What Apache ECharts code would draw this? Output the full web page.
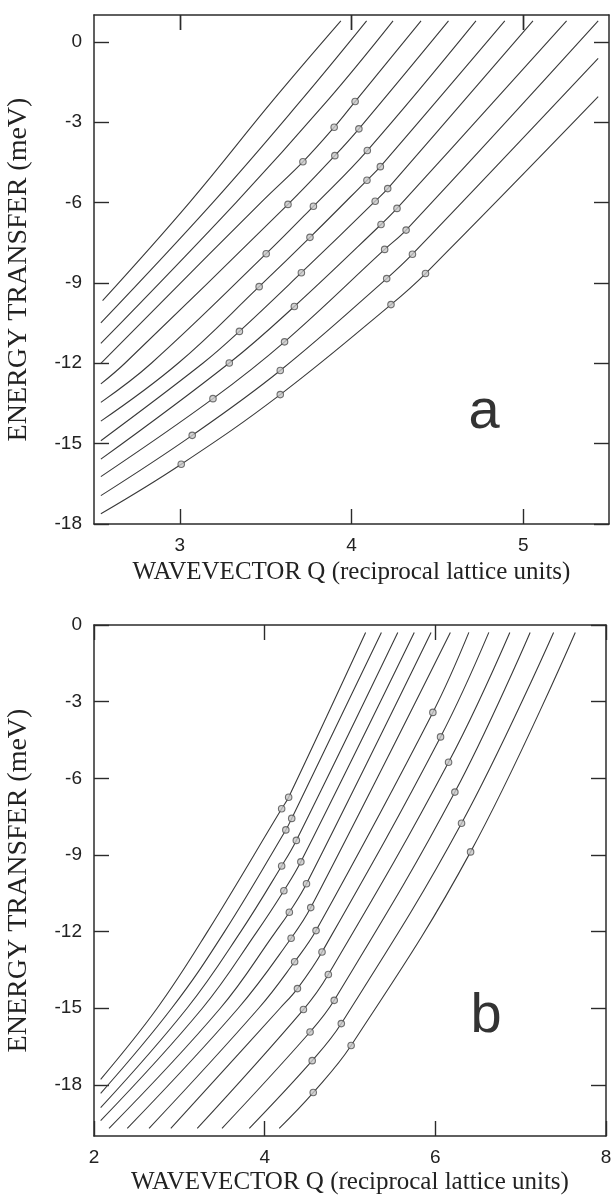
<!DOCTYPE html>
<html><head><meta charset="utf-8">
<script src="https://cdn.jsdelivr.net/npm/echarts@6/dist/echarts.min.js"></script>
<style>html,body{margin:0;padding:0;background:#fff}#c{width:611px;height:1197px}</style>
</head><body><div id="c"></div>
<script>
// ---------- tick labels ----------
const xTicksA = [3, 4, 5];
const yTicksA = [-18, -15, -12, -9, -6, -3, 0];
const xTicksB = [2, 4, 6, 8];
const yTicksB = [-18, -15, -12, -9, -6, -3, 0];
const xTitle = 'WAVEVECTOR Q (reciprocal lattice units)';
const yTitle = 'ENERGY TRANSFER (meV)';

// ---------- panel a : curves (Q, E) ----------
const curveA1 = [[2.55,-9.66],[3.056,-6.0],[3.546,-2.16],[3.938,0.78]];
const curveA2 = [[2.54,-10.49],[3.192,-6.0],[3.71,-2.16],[4.088,0.78]];
const curveA3 = [[2.54,-11.26],[3.327,-6.0],[3.865,-2.16],[4.242,0.78]];
const curveA4 = [[2.54,-12.0],[3.472,-6.0],[3.717,-4.48],[3.899,-3.19],[4.021,-2.23],[4.405,0.78]];
const curveA5 = [[2.54,-12.77],[2.68,-12.0],[3.630,-6.07],[3.903,-4.25],[4.043,-3.25],[4.565,0.78]];
const curveA6 = [[2.54,-13.46],[2.834,-12.0],[3.503,-7.91],[3.778,-6.14],[4.092,-4.06],[4.725,0.78]];
const curveA7 = [[2.54,-14.16],[2.99,-12.0],[3.462,-9.14],[3.758,-7.30],[4.090,-5.17],[4.168,-4.66],[4.893,0.78]];
const curveA8 = [[2.54,-14.89],[3.134,-12.0],[3.347,-10.81],[3.708,-8.62],[4.138,-5.95],[4.211,-5.48],[5.057,0.78]];
const curveA9 = [[2.54,-15.58],[3.288,-11.99],[3.667,-9.88],[4.172,-6.82],[4.265,-6.22],[5.253,0.78]];
const curveA10 = [[2.54,-16.23],[3.193,-13.32],[3.610,-11.20],[4.193,-7.75],[4.318,-7.03],[5.437,0.78]];
const curveA11 = [[2.54,-16.94],[3.072,-14.69],[3.585,-12.27],[4.205,-8.84],[4.355,-7.93],[5.437,-0.62]];
const curveA12 = [[2.54,-17.62],[3.008,-15.77],[3.585,-13.17],[4.23,-9.81],[4.431,-8.65],[5.437,-2.05]];

// ---------- panel a : measured points ----------
const pointsA = [
  [4.021,-2.23],[3.899,-3.19],[4.043,-3.25],[3.717,-4.48],[3.903,-4.25],[4.092,-4.06],
  [4.168,-4.66],[4.090,-5.17],[4.211,-5.48],[3.630,-6.07],[3.778,-6.14],[4.138,-5.95],
  [4.265,-6.22],[4.172,-6.82],[4.318,-7.03],[3.758,-7.30],[3.503,-7.91],[4.193,-7.75],
  [4.355,-7.93],[3.708,-8.62],[4.431,-8.65],[3.462,-9.14],[4.205,-8.84],[3.667,-9.88],
  [4.230,-9.81],[3.347,-10.81],[3.610,-11.20],[3.288,-11.99],[3.585,-12.27],[3.193,-13.32],
  [3.585,-13.17],[3.072,-14.69],[3.008,-15.77]
];

// ---------- panel b : curves (Q, E) ----------
const curveB1 = [[2.078,-17.78],[2.74,-15.0],[3.33,-12.0],[4.199,-7.19],[4.281,-6.74],[5.183,-0.29]];
const curveB2 = [[2.078,-18.33],[2.91,-15.0],[3.53,-12.0],[4.248,-8.02],[4.317,-7.57],[5.368,-0.29]];
const curveB3 = [[2.078,-18.89],[3.09,-15.0],[3.72,-12.0],[4.199,-9.43],[4.371,-8.43],[5.560,-0.29]];
const curveB4 = [[2.078,-19.40],[3.27,-15.0],[3.91,-12.0],[4.225,-10.40],[4.424,-9.27],[5.753,-0.29]];
const curveB5 = [[2.176,-19.70],[3.48,-15.0],[4.13,-12.0],[4.289,-11.24],[4.49,-10.13],[5.950,-0.29]];
const curveB6 = [[2.39,-19.70],[3.69,-15.0],[4.310,-12.26],[4.540,-11.06],[6.176,-0.29]];
const curveB7 = [[2.645,-19.70],[3.93,-15.0],[4.351,-13.18],[4.602,-11.96],[5.971,-3.42],[6.393,-0.29]];
const curveB8 = [[2.90,-19.70],[4.18,-15.0],[4.384,-14.23],[4.672,-12.80],[6.061,-4.38],[6.627,-0.29]];
const curveB9 = [[3.21,-19.70],[4.454,-15.05],[4.746,-13.68],[6.155,-5.37],[6.873,-0.29]];
const curveB10 = [[3.50,-19.70],[4.532,-15.93],[4.815,-14.69],[6.229,-6.54],[7.111,-0.29]];
const curveB11 = [[3.82,-19.70],[4.557,-17.05],[4.898,-15.60],[6.307,-7.76],[7.386,-0.29]];
const curveB12 = [[4.17,-19.70],[4.569,-18.30],[5.013,-16.46],[6.413,-8.88],[7.640,-0.29]];

// ---------- panel b : measured points ----------
const pointsB = [
  [4.281,-6.74],[4.199,-7.19],[4.317,-7.57],[4.248,-8.02],[4.371,-8.43],[4.199,-9.43],
  [4.424,-9.27],[4.490,-10.13],[4.225,-10.40],[4.540,-11.06],[4.289,-11.24],[4.602,-11.96],
  [4.310,-12.26],[4.672,-12.80],[4.351,-13.18],[4.746,-13.68],[4.384,-14.23],[4.815,-14.69],
  [4.454,-15.05],[4.898,-15.60],[4.532,-15.93],[5.013,-16.46],[4.557,-17.05],[4.569,-18.30],
  [5.971,-3.42],[6.061,-4.38],[6.155,-5.37],[6.229,-6.54],[6.307,-7.76],[6.413,-8.88]
];

const curvesA = [curveA1,curveA2,curveA3,curveA4,curveA5,curveA6,curveA7,curveA8,curveA9,curveA10,curveA11,curveA12];
const curvesB = [curveB1,curveB2,curveB3,curveB4,curveB5,curveB6,curveB7,curveB8,curveB9,curveB10,curveB11,curveB12];

const INK = '#2b2b2b';
const LABEL_FONT = '"Liberation Sans", Arial, sans-serif';
const SERIF = '"Liberation Serif", "Times New Roman", serif';

function tickStyle(ticks) {
  return { show: true, inside: true, length: 15, customValues: ticks, lineStyle: { color: INK, width: 1.4 } };
}
function lineStyleAx() {
  return { show: true, onZero: false, lineStyle: { color: INK, width: 1.5 } };
}
function ghostLabels(ticks) {
  return { show: true, customValues: ticks, color: 'rgba(0,0,0,0)', fontSize: 10 };
}
function mainX(grid, min, max, ticks, gap) {
  return {
    type: 'value', gridIndex: grid, min: min, max: max, position: 'bottom',
    axisLine: lineStyleAx(), splitLine: { show: false },
    axisTick: tickStyle(ticks),
    axisLabel: { customValues: ticks, margin: 12, fontFamily: LABEL_FONT, fontSize: 19, color: '#222' },
    name: xTitle, nameLocation: 'middle', nameGap: gap,
    nameTextStyle: { fontFamily: SERIF, fontSize: 25, color: '#222' }
  };
}
function topX(grid, min, max, ticks) {
  return {
    type: 'value', gridIndex: grid, min: min, max: max, position: 'top',
    axisLine: lineStyleAx(), splitLine: { show: false },
    axisTick: tickStyle(ticks),
    axisLabel: ghostLabels(ticks)
  };
}
// strip along the top edge of panel a: its bottom-axis ticks point up into the top frame
function stripX(grid, min, max, ticks) {
  return {
    type: 'value', gridIndex: grid, min: min, max: max, position: 'bottom',
    axisLine: { show: false, onZero: false }, splitLine: { show: false },
    axisTick: tickStyle(ticks),
    axisLabel: { show: false, customValues: ticks }
  };
}
function mainY(grid, min, max, ticks) {
  return {
    type: 'value', gridIndex: grid, min: min, max: max, position: 'left',
    axisLine: lineStyleAx(), splitLine: { show: false },
    axisTick: tickStyle(ticks),
    axisLabel: { customValues: ticks, margin: 12, fontFamily: LABEL_FONT, fontSize: 19, color: '#222' },
    name: yTitle, nameLocation: 'middle', nameGap: 61, nameRotate: 90,
    nameTextStyle: { fontFamily: SERIF, fontSize: 28, color: '#222' }
  };
}
function rightY(grid, min, max, ticks) {
  return {
    type: 'value', gridIndex: grid, min: min, max: max, position: 'right',
    axisLine: lineStyleAx(), splitLine: { show: false },
    axisTick: tickStyle(ticks),
    axisLabel: ghostLabels(ticks)
  };
}
function hiddenY(grid) {
  return { type: 'value', gridIndex: grid, min: 0, max: 1, show: false, axisLine: { onZero: false } };
}

const series = [];
function addCurves(list, xi, yi) {
  list.forEach(function (c) {
    series.push({
      type: 'line', xAxisIndex: xi, yAxisIndex: yi, data: c, smooth: 0.4,
      showSymbol: false, silent: true, animation: false,
      lineStyle: { color: '#3a3a3a', width: 1.1 }
    });
  });
}
function addPoints(pts, xi, yi) {
  series.push({
    type: 'scatter', xAxisIndex: xi, yAxisIndex: yi, data: pts, symbol: 'circle', symbolSize: 6.5,
    silent: true, animation: false, z: 5,
    itemStyle: { color: '#c8c8c8', borderColor: '#505050', borderWidth: 1.1 }
  });
}
addCurves(curvesA, 0, 0);
addPoints(pointsA, 0, 0);
addCurves(curvesB, 2, 2);
addPoints(pointsB, 2, 2);

const chart = echarts.init(document.getElementById('c'), null, { renderer: 'canvas' });
chart.setOption({
  backgroundColor: '#ffffff',
  animation: false,
  grid: [
    { left: 94, right: 2, top: 15, height: 509, containLabel: false, outerBoundsMode: 'none', show: false },
    { left: 94, right: 5, top: 625, height: 511, containLabel: false, outerBoundsMode: 'none', show: false },
    { left: 94, right: 2, top: 15, height: 15, containLabel: false, outerBoundsMode: 'none', show: false }
  ],
  xAxis: [
    mainX(0, 2.5, 5.5, xTicksA, 36), topX(0, 2.5, 5.5, xTicksA),
    mainX(1, 2, 8, xTicksB, 34), topX(1, 2, 8, xTicksB),
    stripX(2, 2.5, 5.5, xTicksA)
  ],
  yAxis: [
    mainY(0, -18, 1, yTicksA), rightY(0, -18, 1, yTicksA),
    mainY(1, -20, 0, yTicksB), rightY(1, -20, 0, yTicksB),
    hiddenY(2)
  ],
  graphic: [
    { type: 'text', x: 484, y: 413, style: { text: 'a', font: '56px ' + LABEL_FONT, fill: '#333', textAlign: 'center', textVerticalAlign: 'middle', align: 'center', verticalAlign: 'middle' } },
    { type: 'text', x: 486, y: 1017, style: { text: 'b', font: '56px ' + LABEL_FONT, fill: '#333', textAlign: 'center', textVerticalAlign: 'middle', align: 'center', verticalAlign: 'middle' } }
  ],
  series: series
});
</script>
</body></html>
